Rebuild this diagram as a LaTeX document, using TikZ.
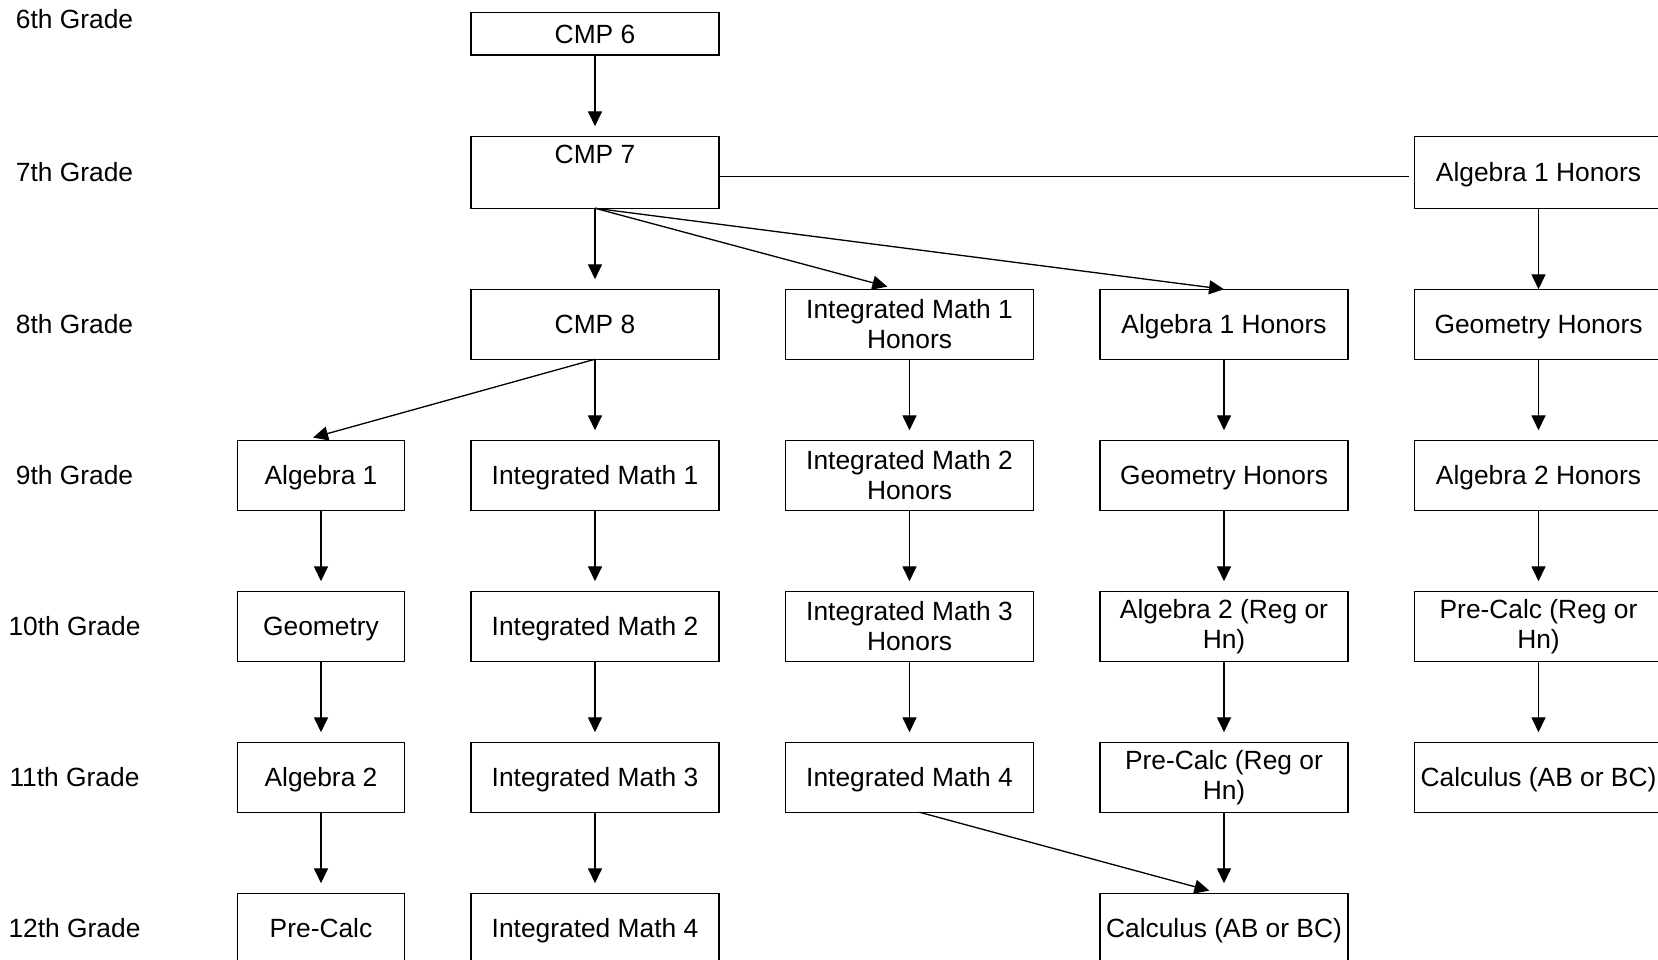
\documentclass[tikz,border=0pt]{standalone}
\usepackage{fontspec}
\setmainfont{Liberation Sans}
\usetikzlibrary{arrows.meta, positioning}

\newcommand{\linestrut}{\rule[-3.5pt]{0pt}{17.7pt}}

\begin{document}
\begin{tikzpicture}[
        node distance=1.62cm and 1.33cm,
        grade/.style={align=center, font=\fontsize{15}{17}\selectfont},
        basebox/.style={rectangle, minimum width=4.96cm, minimum height=1.4cm, inner xsep=2pt, inner ysep=2pt, outer sep=0pt, text centered, draw=black, line width=0.85pt, align=center, font=\fontsize{15}{17}\selectfont},
        course/.style={basebox, execute at begin node=\linestrut, execute at end node=\linestrut},
        twocourse/.style={basebox},
        shortcourse/.style={course, minimum width=3.34cm},
        tallcourse/.style={course, minimum height=1.44cm},
        arrow/.style={line width=0.75pt, -{Triangle[length=8.5pt, width=8pt]}, shorten >=0.2cm},
        link/.style={line width=0.75pt}
    ]
        \useasboundingbox (0,0) rectangle (33.16,-19.2);

        % Grade labels
        \node (grade6) [grade] at (1.49,-0.38) {6th Grade};
        \node (grade7) [grade] at (1.49,-3.445) {7th Grade};
        \node (grade8) [grade] at (1.49,-6.485) {8th Grade};
        \node (grade9) [grade] at (1.49,-9.505) {9th Grade};
        \node (grade10) [grade] at (1.49,-12.525) {10th Grade};
        \node (grade11) [grade] at (1.49,-15.545) {11th Grade};
        \node (grade12) [grade] at (1.49,-18.565) {12th Grade};

        % Middle school
        \node (cmp6) [course, minimum height=0.85cm] at (11.9,-0.68) {CMP 6};
        \node (cmp7) [tallcourse, text height=0.4cm, text depth=0.76cm, below=of cmp6] {CMP 7};
        \node (cmp8) [course, below=of cmp7] {CMP 8};
        \node (im1h) [twocourse, right=of cmp8] {Integrated Math 1\\Honors};
        \node (alg1h) [course, right=of im1h] {Algebra 1 Honors};
        \node (fastgeomh) [course, right=of alg1h] {Geometry Honors};
        \node (fastalg1h) [tallcourse, above=of fastgeomh] {Algebra 1 Honors};

        % 9th grade
        \node (im1) [course, below=of cmp8] {Integrated Math 1};
        \node (alg1) [shortcourse, left=of im1] {Algebra 1};
        \node (im2h) [twocourse, below=of im1h] {Integrated Math 2\\Honors};
        \node (geomh) [course, below=of alg1h] {Geometry Honors};
        \node (fastalg2h) [course, below=of fastgeomh] {Algebra 2 Honors};

        % 10th grade
        \node (geom) [shortcourse, below=of alg1] {Geometry};
        \node (im2) [course, below=of im1] {Integrated Math 2};
        \node (im3h) [twocourse, below=of im2h] {Integrated Math 3\\Honors};
        \node (alg2rh) [twocourse, below=of geomh] {Algebra 2 (Reg or\\Hn)};
        \node (fastprecalc) [twocourse, below=of fastalg2h] {Pre-Calc (Reg or\\Hn)};

        % 11th grade
        \node (alg2) [shortcourse, below=of geom] {Algebra 2};
        \node (im3) [course, below=of im2] {Integrated Math 3};
        \node (im4h) [course, below=of im3h] {Integrated Math 4};
        \node (precalcrh) [twocourse, below=of alg2rh] {Pre-Calc (Reg or\\Hn)};
        \node (fastcalc) [course, below=of fastprecalc] {Calculus (AB or BC)};

        % 12th grade
        \node (precalc) [shortcourse, below=of alg2] {Pre-Calc};
        \node (im4) [course, below=of im3] {Integrated Math 4};
        \node (calc) [course, below=of precalcrh] {Calculus (AB or BC)};

        % Middle school arrows
        \draw [arrow] (cmp6.south) -- (cmp7.north);
        \draw [link, shorten >=0.12cm] ([yshift=-0.09cm]cmp7.east) -- ([yshift=-0.09cm]fastalg1h.west);
        \draw [arrow] (cmp7.south) -- (cmp8.north);
        \draw [arrow] (cmp7.south) -- ([xshift=-0.25cm]im1h.north);
        \draw [arrow, shorten >=0pt] (cmp7.south) -- (alg1h.north);
        \draw [arrow, shorten >=0pt] (fastalg1h.south) -- (fastgeomh.north);

        % 8th to 9th
        \draw [arrow] (cmp8.south) -- ([xshift=-0.35cm]alg1.north);
        \draw [arrow] (cmp8.south) -- (im1.north);
        \draw [arrow] (im1h.south) -- (im2h.north);
        \draw [arrow] (alg1h.south) -- (geomh.north);
        \draw [arrow] (fastgeomh.south) -- (fastalg2h.north);

        % 9th to 10th
        \draw [arrow] (alg1.south) -- (geom.north);
        \draw [arrow] (im1.south) -- (im2.north);
        \draw [arrow] (im2h.south) -- (im3h.north);
        \draw [arrow] (geomh.south) -- (alg2rh.north);
        \draw [arrow] (fastalg2h.south) -- (fastprecalc.north);

        % 10th to 11th
        \draw [arrow] (geom.south) -- (alg2.north);
        \draw [arrow] (im2.south) -- (im3.north);
        \draw [arrow] (im3h.south) -- (im4h.north);
        \draw [arrow] (alg2rh.south) -- (precalcrh.north);
        \draw [arrow] (fastprecalc.south) -- (fastcalc.north);

        % 11th to 12th
        \draw [arrow] (alg2.south) -- (precalc.north);
        \draw [arrow] (im3.south) -- (im4.north);
        \draw [arrow] ([xshift=0.2cm]im4h.south) -- ([xshift=-0.1cm]calc.north);
        \draw [arrow] (precalcrh.south) -- (calc.north);

    \end{tikzpicture}
\end{document}
